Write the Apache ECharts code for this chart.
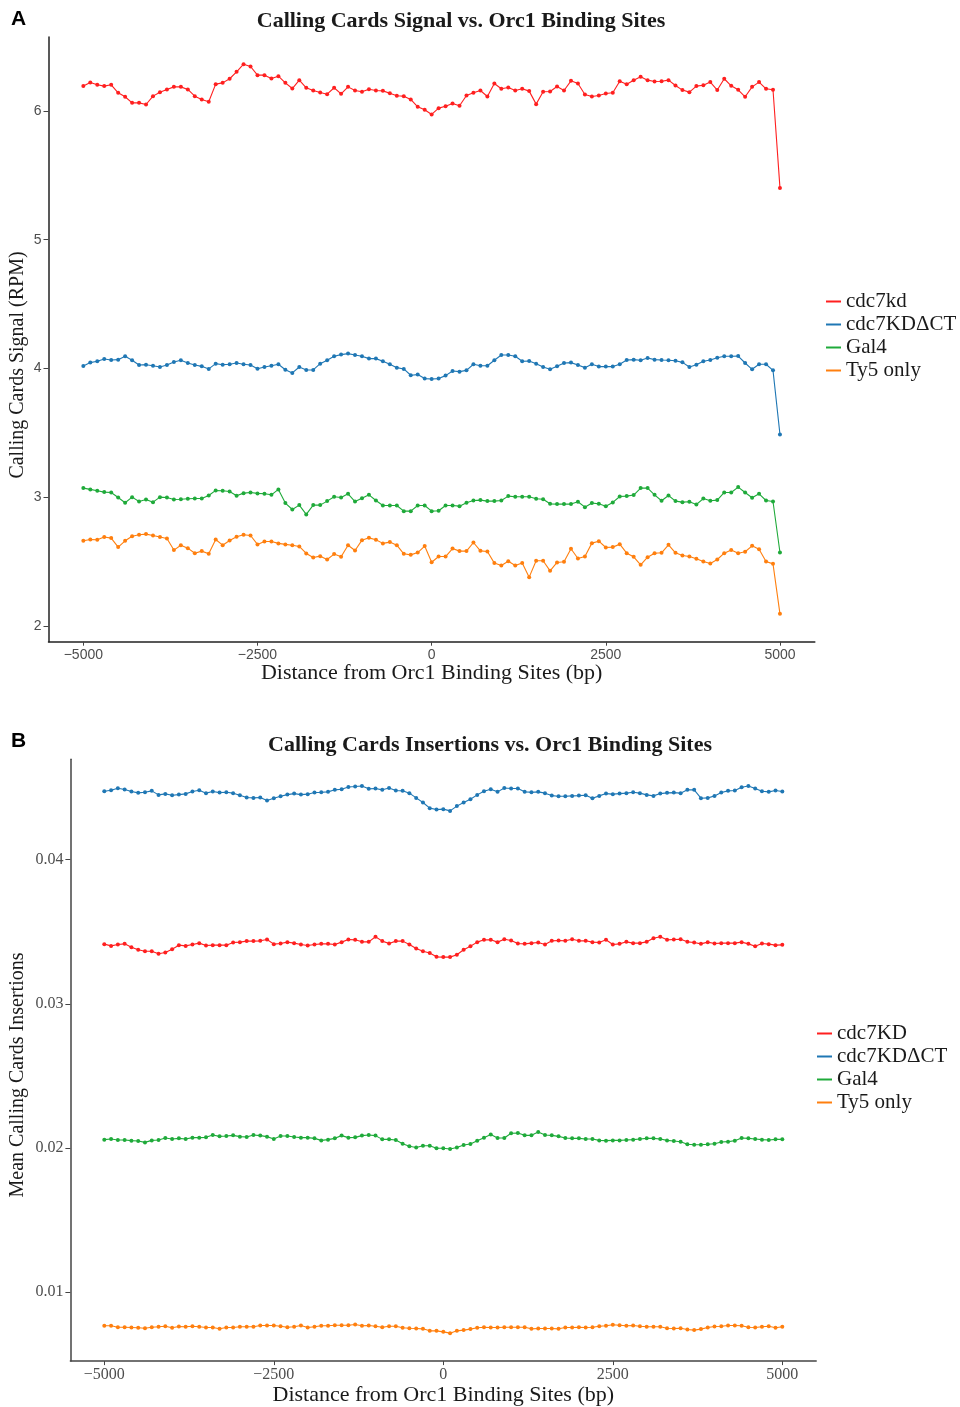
<!DOCTYPE html>
<html>
<head>
<meta charset="utf-8">
<script src="https://cdn.jsdelivr.net/npm/echarts@6.0.0/dist/echarts.min.js"></script>
<style>
  html, body { margin: 0; padding: 0; background: #fff; }
  #chart { width: 960px; height: 1407px; }
</style>
</head>
<body>
<div id="chart"></div>
<script>
// bins: distance from Orc1 binding site, 100 bp steps
const distance = Array.from({ length: 101 }, (_, i) => -5000 + i * 100);
const xTicks = [-5000, -2500, 0, 2500, 5000];

// panel A: Calling Cards signal (RPM)
const signalCdc7kd = [
  6.192, 6.220, 6.202, 6.192, 6.202, 6.140, 6.109, 6.062, 6.062, 6.049,
  6.114, 6.145, 6.166, 6.186, 6.186, 6.166, 6.114, 6.088, 6.070, 6.207,
  6.217, 6.249, 6.303, 6.362, 6.344, 6.277, 6.277, 6.251, 6.269, 6.217,
  6.173, 6.238, 6.179, 6.158, 6.142, 6.129, 6.179, 6.132, 6.186, 6.158,
  6.148, 6.168, 6.158, 6.155, 6.137, 6.117, 6.114, 6.088, 6.031, 6.008,
  5.972, 6.021, 6.036, 6.057, 6.039, 6.119, 6.140, 6.158, 6.111, 6.212,
  6.171, 6.181, 6.158, 6.171, 6.153, 6.052, 6.148, 6.150, 6.189, 6.158,
  6.233, 6.212, 6.127, 6.111, 6.119, 6.135, 6.140, 6.230, 6.207, 6.238,
  6.264, 6.238, 6.228, 6.230, 6.238, 6.197, 6.161, 6.145, 6.192, 6.199,
  6.223, 6.161, 6.249, 6.194, 6.163, 6.109, 6.186, 6.223, 6.171, 6.163,
  5.402
];
const signalCdc7kdDct = [
  4.020, 4.046, 4.056, 4.074, 4.066, 4.069, 4.095, 4.064, 4.027, 4.030,
  4.022, 4.012, 4.027, 4.051, 4.064, 4.043, 4.027, 4.017, 3.997, 4.038,
  4.030, 4.033, 4.043, 4.033, 4.027, 3.999, 4.012, 4.022, 4.033, 3.991,
  3.966, 4.012, 3.989, 3.989, 4.038, 4.064, 4.095, 4.108, 4.116, 4.105,
  4.095, 4.077, 4.077, 4.056, 4.033, 4.007, 3.997, 3.948, 3.953, 3.922,
  3.919, 3.922, 3.945, 3.981, 3.976, 3.986, 4.033, 4.022, 4.022, 4.064,
  4.105, 4.105, 4.095, 4.056, 4.059, 4.038, 4.012, 3.994, 4.017, 4.043,
  4.046, 4.027, 4.007, 4.033, 4.015, 4.015, 4.015, 4.033, 4.066, 4.069,
  4.064, 4.082, 4.069, 4.066, 4.064, 4.061, 4.048, 4.012, 4.030, 4.056,
  4.066, 4.084, 4.095, 4.095, 4.097, 4.043, 3.994, 4.033, 4.033, 3.986,
  3.489
];
const signalGal4 = [
  3.072, 3.062, 3.051, 3.041, 3.038, 2.999, 2.958, 3.002, 2.968, 2.984,
  2.963, 3.002, 2.999, 2.984, 2.986, 2.989, 2.991, 2.991, 3.015, 3.054,
  3.051, 3.046, 3.013, 3.033, 3.038, 3.031, 3.028, 3.020, 3.062, 2.956,
  2.906, 2.940, 2.868, 2.940, 2.940, 2.971, 3.005, 2.999, 3.028, 2.968,
  2.994, 3.020, 2.976, 2.937, 2.937, 2.937, 2.893, 2.893, 2.937, 2.937,
  2.893, 2.896, 2.937, 2.937, 2.932, 2.958, 2.976, 2.979, 2.971, 2.971,
  2.976, 3.010, 3.005, 3.005, 3.005, 2.989, 2.986, 2.950, 2.948, 2.948,
  2.948, 2.966, 2.924, 2.956, 2.950, 2.932, 2.961, 3.007, 3.010, 3.018,
  3.072, 3.072, 3.020, 2.974, 3.015, 2.971, 2.963, 2.966, 2.945, 2.991,
  2.974, 2.979, 3.038, 3.038, 3.080, 3.038, 2.997, 3.028, 2.976, 2.968,
  2.572
];
const signalTy5 = [
  2.663, 2.673, 2.671, 2.692, 2.684, 2.614, 2.663, 2.699, 2.710, 2.715,
  2.704, 2.692, 2.681, 2.591, 2.629, 2.606, 2.567, 2.583, 2.562, 2.673,
  2.629, 2.666, 2.694, 2.710, 2.704, 2.635, 2.658, 2.658, 2.643, 2.635,
  2.629, 2.619, 2.565, 2.534, 2.544, 2.518, 2.560, 2.539, 2.629, 2.588,
  2.668, 2.686, 2.671, 2.643, 2.653, 2.629, 2.562, 2.554, 2.572, 2.622,
  2.497, 2.541, 2.541, 2.603, 2.583, 2.583, 2.650, 2.585, 2.580, 2.490,
  2.472, 2.505, 2.472, 2.490, 2.381, 2.508, 2.508, 2.430, 2.495, 2.500,
  2.601, 2.526, 2.541, 2.645, 2.660, 2.611, 2.614, 2.637, 2.567, 2.539,
  2.477, 2.536, 2.567, 2.570, 2.632, 2.570, 2.549, 2.541, 2.523, 2.503,
  2.487, 2.518, 2.567, 2.591, 2.567, 2.578, 2.624, 2.598, 2.503, 2.484,
  2.096
];
const signalTicks = [2, 3, 4, 5, 6];

// panel B: mean Calling Cards insertions
const insCdc7kd = [
  0.03414, 0.03402, 0.03412, 0.03416, 0.03393, 0.03375, 0.03365, 0.03365, 0.03347, 0.03356,
  0.03379, 0.03407, 0.03402, 0.03412, 0.03421, 0.03405, 0.03407, 0.03407, 0.03407, 0.03425,
  0.03428, 0.03435, 0.03435, 0.03437, 0.03446, 0.03414, 0.03418, 0.03428, 0.03421, 0.03412,
  0.03405, 0.03412, 0.03416, 0.03416, 0.03412, 0.03428, 0.03446, 0.03444, 0.03430, 0.03430,
  0.03465, 0.03435, 0.03418, 0.03435, 0.03435, 0.03412, 0.03384, 0.03365, 0.03352, 0.03326,
  0.03324, 0.03324, 0.03340, 0.03375, 0.03400, 0.03428, 0.03444, 0.03444, 0.03428, 0.03448,
  0.03439, 0.03418, 0.03416, 0.03421, 0.03425, 0.03412, 0.03437, 0.03439, 0.03437, 0.03448,
  0.03437, 0.03437, 0.03428, 0.03425, 0.03444, 0.03412, 0.03416, 0.03430, 0.03421, 0.03421,
  0.03430, 0.03455, 0.03465, 0.03444, 0.03446, 0.03448, 0.03430, 0.03425, 0.03416, 0.03428,
  0.03418, 0.03421, 0.03421, 0.03421, 0.03428, 0.03416, 0.03400, 0.03418, 0.03414, 0.03407,
  0.03409
];
const insCdc7kdDct = [
  0.04475, 0.04482, 0.04496, 0.04487, 0.04473, 0.04464, 0.04468, 0.04478, 0.04450, 0.04457,
  0.04448, 0.04452, 0.04457, 0.04473, 0.04482, 0.04462, 0.04473, 0.04466, 0.04468, 0.04462,
  0.04448, 0.04432, 0.04429, 0.04432, 0.04411, 0.04427, 0.04441, 0.04452, 0.04459, 0.04452,
  0.04455, 0.04466, 0.04468, 0.04471, 0.04485, 0.04489, 0.04505, 0.04508, 0.04512, 0.04492,
  0.04494, 0.04485, 0.04498, 0.04480, 0.04478, 0.04462, 0.04429, 0.04397, 0.04358, 0.04348,
  0.04351, 0.04339, 0.04372, 0.04397, 0.04420, 0.04450, 0.04475, 0.04489, 0.04471, 0.04498,
  0.04494, 0.04494, 0.04471, 0.04468, 0.04471, 0.04462, 0.04445, 0.04441, 0.04441, 0.04443,
  0.04445, 0.04448, 0.04427, 0.04443, 0.04459, 0.04455, 0.04459, 0.04462, 0.04468, 0.04462,
  0.04450, 0.04443, 0.04459, 0.04464, 0.04466, 0.04462, 0.04485, 0.04485, 0.04427, 0.04429,
  0.04443, 0.04466, 0.04478, 0.04480, 0.04503, 0.04512, 0.04494, 0.04475, 0.04471, 0.04480,
  0.04473
];
const insGal4 = [
  0.02057, 0.02062, 0.02055, 0.02055, 0.02050, 0.02048, 0.02038, 0.02052, 0.02055, 0.02068,
  0.02062, 0.02066, 0.02062, 0.02071, 0.02071, 0.02073, 0.02089, 0.02080, 0.02082, 0.02087,
  0.02078, 0.02075, 0.02089, 0.02085, 0.02078, 0.02062, 0.02082, 0.02082, 0.02075, 0.02071,
  0.02071, 0.02066, 0.02052, 0.02057, 0.02066, 0.02085, 0.02071, 0.02073, 0.02085, 0.02089,
  0.02085, 0.02059, 0.02059, 0.02055, 0.02029, 0.02011, 0.02002, 0.02015, 0.02015, 0.01997,
  0.01997, 0.01992, 0.02002, 0.02020, 0.02027, 0.02050, 0.02071, 0.02092, 0.02068, 0.02068,
  0.02101, 0.02103, 0.02087, 0.02087, 0.02110, 0.02089, 0.02087, 0.02080, 0.02068, 0.02066,
  0.02066, 0.02062, 0.02062, 0.02052, 0.02050, 0.02052, 0.02052, 0.02055, 0.02057, 0.02062,
  0.02066, 0.02066, 0.02062, 0.02052, 0.02048, 0.02043, 0.02025, 0.02022, 0.02022, 0.02025,
  0.02029, 0.02041, 0.02043, 0.02050, 0.02068, 0.02066, 0.02062, 0.02057, 0.02055, 0.02059,
  0.02059
];
const insTy5 = [
  0.00765, 0.00765, 0.00755, 0.00755, 0.00753, 0.00751, 0.00748, 0.00755, 0.00758, 0.00762,
  0.00751, 0.00760, 0.00758, 0.00762, 0.00758, 0.00753, 0.00753, 0.00744, 0.00753, 0.00753,
  0.00758, 0.00758, 0.00758, 0.00767, 0.00767, 0.00767, 0.00762, 0.00755, 0.00758, 0.00767,
  0.00753, 0.00758, 0.00765, 0.00765, 0.00769, 0.00769, 0.00769, 0.00774, 0.00765, 0.00767,
  0.00762, 0.00755, 0.00762, 0.00762, 0.00751, 0.00748, 0.00746, 0.00744, 0.00730, 0.00730,
  0.00723, 0.00714, 0.00730, 0.00735, 0.00742, 0.00751, 0.00755, 0.00753, 0.00753, 0.00755,
  0.00755, 0.00755, 0.00755, 0.00744, 0.00746, 0.00746, 0.00746, 0.00744, 0.00753, 0.00753,
  0.00755, 0.00753, 0.00755, 0.00762, 0.00765, 0.00772, 0.00769, 0.00765, 0.00767, 0.00762,
  0.00758, 0.00758, 0.00758, 0.00748, 0.00746, 0.00748, 0.00739, 0.00735, 0.00742, 0.00753,
  0.00760, 0.00762, 0.00767, 0.00767, 0.00765, 0.00755, 0.00753, 0.00758, 0.00762, 0.00751,
  0.00758
];
const insTicks = [0.01, 0.02, 0.03, 0.04];

const legendA = ['cdc7kd', 'cdc7KD\u0394CT', 'Gal4', 'Ty5 only'];
const legendB = ['cdc7KD', 'cdc7KD\u0394CT', 'Gal4', 'Ty5 only'];
const colors = ['#ff1f1f', '#1f77b4', '#1faa3a', '#ff7f0e'];

const SERIF = '"Liberation Serif", "Times New Roman", serif';
const SANS = '"Liberation Sans", Arial, sans-serif';

const minus = v => String(v).replace('-', '\u2212');

function lineSeries(name, values, color, idx) {
  return {
    name: name,
    type: 'line',
    xAxisIndex: idx,
    yAxisIndex: idx,
    data: distance.map((d, i) => [d, values[i]]),
    symbol: 'circle',
    symbolSize: 4,
    lineStyle: { width: 1.1, color: color },
    itemStyle: { color: color },
    emphasis: { disabled: true }
  };
}

function xAxis(idx, labelFont, labelSize, nameGap, lineColor) {
  return {
    type: 'value',
    gridIndex: idx,
    min: -5500,
    max: 5500,
    splitLine: { show: false },
    axisLine: { onZero: false, lineStyle: { color: lineColor, width: 1.5 } },
    axisTick: { customValues: xTicks, length: 4, lineStyle: { color: '#444' } },
    axisLabel: {
      customValues: xTicks, formatter: minus, margin: 6,
      fontFamily: labelFont, fontSize: labelSize, color: '#4d4d4d'
    },
    name: 'Distance from Orc1 Binding Sites (bp)',
    nameLocation: 'middle',
    nameGap: nameGap,
    nameTextStyle: { fontFamily: SERIF, fontSize: 22, color: '#1a1a1a' }
  };
}

function yAxis(idx, min, max, ticks, labelFont, labelSize, lineColor) {
  return {
    type: 'value',
    gridIndex: idx,
    min: min,
    max: max,
    splitLine: { show: false },
    axisLine: { show: true, onZero: false, lineStyle: { color: lineColor, width: 1.5 } },
    axisTick: { show: true, customValues: ticks, length: 5, lineStyle: { color: '#444' } },
    axisLabel: {
      customValues: ticks, margin: 7,
      fontFamily: labelFont, fontSize: labelSize, color: '#4d4d4d'
    }
  };
}

function legend(names, left, top) {
  return {
    data: names,
    orient: 'vertical',
    left: left,
    top: top,
    icon: 'rect',
    itemWidth: 15,
    itemHeight: 2,
    itemGap: 2,
    selectedMode: false,
    padding: 0,
    textStyle: { fontFamily: SERIF, fontSize: 21, lineHeight: 21, color: '#1a1a1a' }
  };
}

const titleStyle = { fontFamily: SERIF, fontWeight: 'bold', fontSize: 22, color: '#1a1a1a' };
const panelStyle = { fontFamily: SANS, fontWeight: 'bold', fontSize: 21, color: '#000' };

const chart = echarts.init(document.getElementById('chart'));
chart.setOption({
  animation: false,
  backgroundColor: '#fff',
  title: [
    { text: 'A', left: 11, top: 9, padding: 0, textStyle: panelStyle },
    { text: 'Calling Cards Signal vs. Orc1 Binding Sites', left: 461, top: 10, padding: 0, textAlign: 'center', textStyle: titleStyle },
    { text: 'B', left: 11, top: 731, padding: 0, textStyle: panelStyle },
    { text: 'Calling Cards Insertions vs. Orc1 Binding Sites', left: 490, top: 734, padding: 0, textAlign: 'center', textStyle: titleStyle }
  ],
  legend: [
    legend(legendA, 826, 291),
    legend(legendB, 817, 1023)
  ],
  grid: [
    { left: 48.5, right: 145.2, top: 37, bottom: 765.3, containLabel: false },
    { left: 70.4, right: 143.8, top: 759.3, bottom: 44.3, containLabel: false }
  ],
  xAxis: [
    xAxis(0, SANS, 14, 19, '#222'),
    xAxis(1, SERIF, 16, 21, '#444')
  ],
  yAxis: [
    yAxis(0, 1.88, 6.573, signalTicks, SANS, 14, '#222'),
    yAxis(1, 0.0052, 0.04697, insTicks, SERIF, 16, '#444')
  ],
  graphic: [
    {
      type: 'text', x: 18, y: 365, rotation: Math.PI / 2,
      style: { text: 'Calling Cards Signal (RPM)', font: '20px ' + SERIF, fill: '#1a1a1a', align: 'center', verticalAlign: 'middle' }
    },
    {
      type: 'text', x: 17.5, y: 1075, rotation: Math.PI / 2,
      style: { text: 'Mean Calling Cards Insertions', font: '20px ' + SERIF, fill: '#1a1a1a', align: 'center', verticalAlign: 'middle' }
    }
  ],
  series: [
    lineSeries(legendA[0], signalCdc7kd, colors[0], 0),
    lineSeries(legendA[1], signalCdc7kdDct, colors[1], 0),
    lineSeries(legendA[2], signalGal4, colors[2], 0),
    lineSeries(legendA[3], signalTy5, colors[3], 0),
    lineSeries(legendB[0], insCdc7kd, colors[0], 1),
    lineSeries(legendB[1], insCdc7kdDct, colors[1], 1),
    lineSeries(legendB[2], insGal4, colors[2], 1),
    lineSeries(legendB[3], insTy5, colors[3], 1)
  ]
});
window.addEventListener('resize', () => chart.resize());
</script>
</body>
</html>
